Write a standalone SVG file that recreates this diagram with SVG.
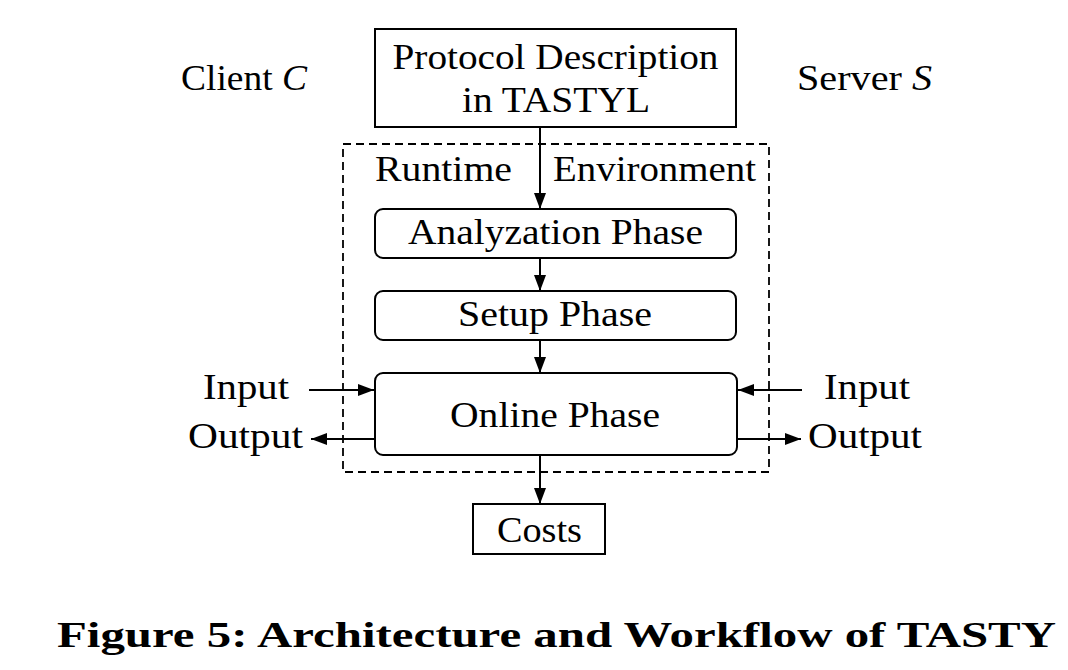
<svg xmlns="http://www.w3.org/2000/svg" width="1068" height="670" viewBox="0 0 1068 670">
<defs>
<marker id="ah" viewBox="0 0 16 12" refX="16" refY="6" markerWidth="16" markerHeight="12" markerUnits="userSpaceOnUse" orient="auto">
<path d="M0,0 L16,6 L0,12 Z" fill="#000"/>
</marker>
<style>
text{font-family:"Liberation Serif","DejaVu Serif",serif;font-size:35px;fill:#000}
.c{text-anchor:middle}
.box{fill:#fff;stroke:#000;stroke-width:2}
.edge{stroke:#000;stroke-width:2;fill:none;marker-end:url(#ah)}
.cap{font-weight:bold;font-size:36px}
</style>
</defs>
<rect width="1068" height="670" fill="#fff"/>
<g id="runtime">
<rect x="343" y="144" width="426" height="328" fill="none" stroke="#000" stroke-width="1.8" stroke-dasharray="8,5"/>
<text x="443.5" y="181" class="c" textLength="137" lengthAdjust="spacingAndGlyphs">Runtime</text>
<text x="654.5" y="181" class="c" textLength="203" lengthAdjust="spacingAndGlyphs">Environment</text>
</g>
<g id="protocol">
<rect class="box" x="375" y="29" width="361" height="98"/>
<text x="555.5" y="69" class="c" textLength="326" lengthAdjust="spacingAndGlyphs">Protocol Description</text>
<text x="556" y="112" class="c" textLength="188" lengthAdjust="spacingAndGlyphs">in TASTYL</text>
</g>
<g id="client">
<text x="181" y="90" textLength="126" lengthAdjust="spacingAndGlyphs">Client <tspan font-style="italic">C</tspan></text>
</g>
<g id="server">
<text x="797" y="90" textLength="135" lengthAdjust="spacingAndGlyphs">Server <tspan font-style="italic">S</tspan></text>
</g>
<g id="analyzation">
<rect class="box" x="375" y="209" width="361" height="49" rx="8"/>
<text x="555.5" y="244" class="c" textLength="295" lengthAdjust="spacingAndGlyphs">Analyzation Phase</text>
</g>
<g id="setup">
<rect class="box" x="375" y="291" width="361" height="49" rx="8"/>
<text x="555" y="326" class="c" textLength="194" lengthAdjust="spacingAndGlyphs">Setup Phase</text>
</g>
<g id="online">
<rect class="box" x="375" y="373" width="362" height="82" rx="8"/>
<text x="555" y="427" class="c" textLength="210" lengthAdjust="spacingAndGlyphs">Online Phase</text>
</g>
<g id="costs">
<rect class="box" x="473" y="504" width="132" height="50"/>
<text x="539.5" y="542" class="c" textLength="85" lengthAdjust="spacingAndGlyphs">Costs</text>
</g>
<g id="io-left">
<text x="246" y="399" class="c" textLength="86" lengthAdjust="spacingAndGlyphs">Input</text>
<text x="245.5" y="448" class="c" textLength="115" lengthAdjust="spacingAndGlyphs">Output</text>
</g>
<g id="io-right">
<text x="867" y="399" class="c" textLength="86" lengthAdjust="spacingAndGlyphs">Input</text>
<text x="865" y="448" class="c" textLength="114" lengthAdjust="spacingAndGlyphs">Output</text>
</g>
<g id="connectors">
<line class="edge" x1="540" y1="127" x2="540" y2="209"/>
<line class="edge" x1="540" y1="258" x2="540" y2="291"/>
<line class="edge" x1="540" y1="340" x2="540" y2="373"/>
<line class="edge" x1="540" y1="455" x2="540" y2="504"/>
<line class="edge" x1="309" y1="390" x2="374" y2="390"/>
<line class="edge" x1="375" y1="439" x2="311" y2="439"/>
<line class="edge" x1="802" y1="390" x2="738" y2="390"/>
<line class="edge" x1="737" y1="439" x2="801" y2="439"/>
</g>
<g id="caption">
<text x="57" y="647" class="cap" textLength="999" lengthAdjust="spacingAndGlyphs">Figure 5: Architecture and Workflow of TASTY</text>
</g>
</svg>
